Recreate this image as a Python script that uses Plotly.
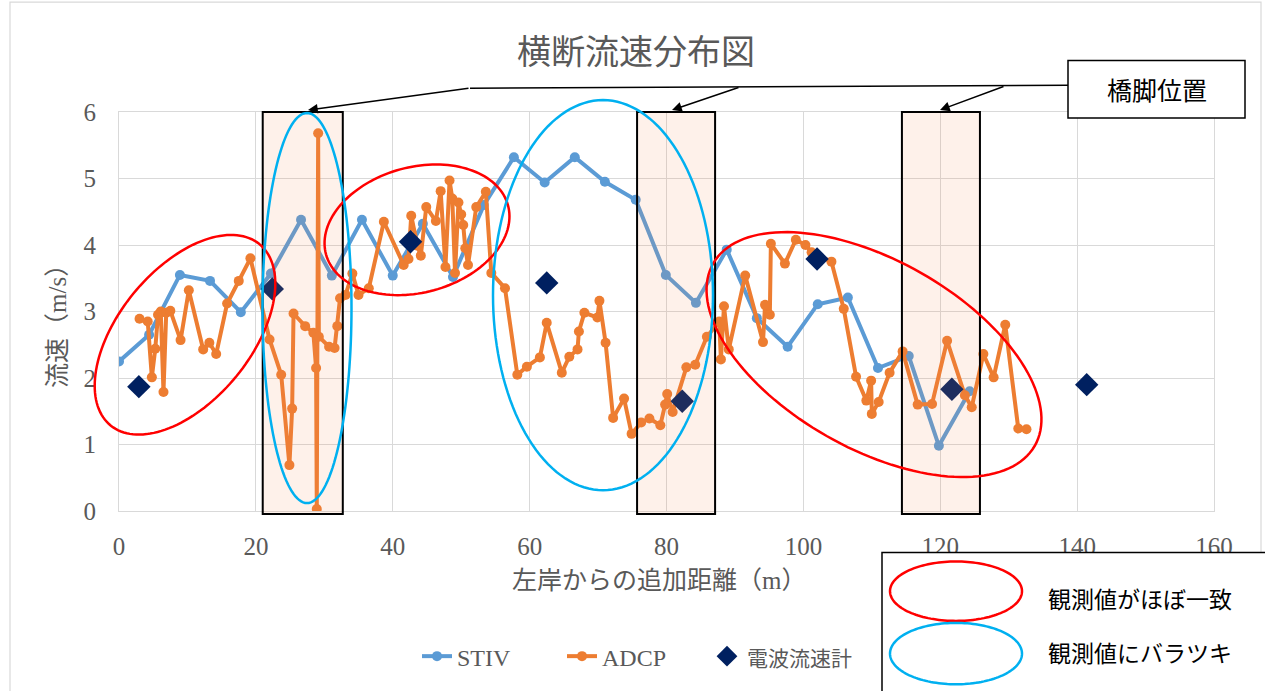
import math
import plotly.graph_objects as go

# ---- data -------------------------------------------------------------
stiv_x = [0, 4.4, 8.9, 13.3, 17.8, 22.2, 26.6, 31.1, 35.5, 40.0, 44.4, 48.8, 53.3,
          57.7, 62.2, 66.6, 71.0, 75.5, 79.9, 84.3, 88.8, 93.2, 97.7, 102.1, 106.5,
          110.9, 115.4, 119.8, 124.3]
stiv_v = [2.25, 2.65, 3.55, 3.46, 2.99, 3.57, 4.38, 3.54, 4.38, 3.54, 4.32, 3.52, 4.60,
          5.32, 4.94, 5.32, 4.95, 4.68, 3.55, 3.13, 3.93, 2.90, 2.47, 3.11, 3.21,
          2.15, 2.33, 0.98, 1.80]

adcp_x = [3.0, 4.2, 4.8, 5.3, 5.7, 6.1, 6.5, 6.9, 7.5, 9.0, 10.2, 12.3, 13.2, 14.2,
          15.8, 17.5, 19.2, 22.0, 23.7, 24.9, 25.3, 25.5, 27.2, 28.4, 28.8, 28.9,
          29.1, 29.2, 30.7, 31.5, 31.9, 32.3, 33.1, 34.1, 35.0, 36.5, 38.7, 41.6,
          42.3, 42.7, 43.6, 44.1, 44.9, 46.3, 47.0, 47.7, 48.3, 48.7, 49.1, 49.6,
          50.0, 50.3, 50.6, 51.0, 52.2, 53.6, 54.4, 56.4, 58.2, 59.6, 61.5, 62.5,
          64.7, 65.8, 67.0, 67.2, 68.0, 69.9, 70.2, 71.1, 72.2, 73.8, 74.9, 76.3,
          77.5, 79.1, 79.8, 80.1, 80.9, 82.9, 84.2, 85.9, 87.7, 87.95, 88.4, 89.1,
          91.5, 94.1, 94.4, 95.1, 95.25, 97.3, 98.9, 100.3, 101.2, 104.1, 105.9,
          107.7, 109.2, 109.9, 110.0, 111.0, 112.6, 114.5, 116.7, 118.8, 121.0,
          123.6, 124.6, 126.3, 127.8, 129.5, 131.4, 132.6]
adcp_v = [2.89, 2.85, 2.01, 2.44, 2.95, 3.00, 1.79, 2.98, 3.01, 2.57, 3.32, 2.43, 2.53, 2.36,
          3.12, 3.46, 3.80, 2.58, 2.05, 0.69, 1.54, 2.97, 2.78, 2.68, 2.15, 0.03,
          5.68, 2.62, 2.47, 2.45, 2.78, 3.20, 3.25, 3.57, 3.25, 3.35, 4.35, 3.70,
          3.79, 4.44, 3.99, 3.84, 4.57, 4.36, 4.81, 3.67, 4.97, 4.70, 3.58, 4.64,
          4.46, 4.30, 3.95, 3.70, 4.57, 4.80, 3.58, 3.35, 2.05, 2.17, 2.31, 2.83,
          2.08, 2.32, 2.43, 2.70, 2.98, 2.91, 3.16, 2.53, 1.40, 1.69, 1.16, 1.33,
          1.39, 1.29, 1.60, 1.76, 1.49, 2.16, 2.20, 2.62, 2.85, 2.28, 3.08, 2.43,
          3.54, 2.54, 3.10, 2.95, 4.02, 3.72, 4.08, 4.00, 3.89, 3.75, 3.04,
          2.02, 1.66, 1.96, 1.46, 1.64, 2.08, 2.40, 1.60, 1.61, 2.56,
          1.74, 1.56, 2.36, 2.01, 2.80, 1.24, 1.23]

radio_x = [2.9, 22.4, 42.6, 62.5, 82.3, 102.0, 121.7, 141.4]
radio_v = [1.87, 3.34, 4.05, 3.43, 1.65, 3.79, 1.83, 1.90]

# bridge pier spans along the cross section (m)
piers = [(21.0, 32.7), (75.7, 87.1), (114.4, 125.8)]

x_ticks = [0, 20, 40, 60, 80, 100, 120, 140, 160]
y_ticks = [0, 1, 2, 3, 4, 5, 6]

# ---- page geometry ----------------------------------------------------
W, H = 1265, 691
ML, MR, MT, MB = 119, 51, 112, 176
PW, PH = W - ML - MR, H - MT - MB
X_MAX, Y_MAX = 160, 6


def px(x):
    return (x - ML) / PW


def py(y):
    return (H - MB - y) / PH


def ellipse_path(cx, cy, a, b, deg, n=144):
    t0 = math.radians(deg)
    ux, uy = math.cos(t0), -math.sin(t0)
    vx, vy = math.sin(t0), math.cos(t0)
    pts = []
    for i in range(n):
        t = 2 * math.pi * i / n
        X = cx + a * math.cos(t) * ux + b * math.sin(t) * vx
        Y = cy + a * math.cos(t) * uy + b * math.sin(t) * vy
        pts.append(f"{px(X):.5f},{py(Y):.5f}")
    return "M" + " L".join(pts) + " Z"


GREY = "#595959"
SERIF = "Liberation Serif, Noto Sans CJK JP"
JP = "Noto Sans CJK JP"
RED = "#ff0000"
CYAN = "#00b0f0"

fig = go.Figure()
fig.add_trace(go.Scatter(
    x=stiv_x, y=stiv_v, name="STIV", mode="lines+markers",
    line=dict(color="#5b9bd5", width=4),
    marker=dict(color="#5b9bd5", size=10)))
fig.add_trace(go.Scatter(
    x=adcp_x, y=adcp_v, name="ADCP", mode="lines+markers",
    line=dict(color="#ed7d31", width=4),
    marker=dict(color="#ed7d31", size=10)))
fig.add_trace(go.Scatter(
    x=radio_x, y=radio_v,
    name="<span style='font-size:21px'>電波流速計</span>", mode="markers",
    marker=dict(color="#002060", size=18, symbol="diamond")))

shapes = []
# pier rectangles
for x0, x1 in piers:
    shapes.append(dict(type="rect", xref="paper", yref="paper",
                       x0=x0 / X_MAX, x1=x1 / X_MAX, y0=py(518), y1=1.0,
                       line=dict(color="black", width=2),
                       fillcolor="rgba(244,140,80,0.12)", layer="above"))

# highlight ellipses
shapes.append(dict(type="path", xref="paper", yref="paper",
                   path=ellipse_path(185, 337, 118, 66.3, 51.1),
                   line=dict(color=RED, width=2.5), layer="above"))
shapes.append(dict(type="path", xref="paper", yref="paper",
                   path=ellipse_path(417, 231, 94.3, 63.3, 15.4),
                   line=dict(color=RED, width=2.5), layer="above"))
shapes.append(dict(type="path", xref="paper", yref="paper",
                   path=ellipse_path(874, 357, 185.3, 94.9, -29.9),
                   line=dict(color=RED, width=2.5), layer="above"))
shapes.append(dict(type="path", xref="paper", yref="paper",
                   path=ellipse_path(307, 310, 44.5, 197, 0),
                   line=dict(color=CYAN, width=2.5), layer="above"))
shapes.append(dict(type="path", xref="paper", yref="paper",
                   path=ellipse_path(603, 297, 110, 197, 0),
                   line=dict(color=CYAN, width=2.5), layer="above"))

# callout leader line
shapes.append(dict(type="line", xref="paper", yref="paper",
                   x0=px(470), y0=py(88), x1=px(1068), y1=py(85),
                   line=dict(color="black", width=1.5), layer="above"))
# callout box
shapes.append(dict(type="rect", xref="paper", yref="paper",
                   x0=px(1068), x1=px(1245), y0=py(118), y1=py(60),
                   line=dict(color="black", width=1.5), fillcolor="white",
                   layer="above"))
# key box for the ellipses
shapes.append(dict(type="rect", xref="paper", yref="paper",
                   x0=px(882), x1=px(1275), y0=py(700), y1=py(557),
                   line=dict(color="black", width=1.5), fillcolor="white",
                   layer="above"))
shapes.append(dict(type="path", xref="paper", yref="paper",
                   path=ellipse_path(956, 596, 66, 30, 0),
                   line=dict(color=RED, width=2.5), layer="above"))
shapes.append(dict(type="path", xref="paper", yref="paper",
                   path=ellipse_path(956, 659, 66, 31, 0),
                   line=dict(color=CYAN, width=2.5), layer="above"))
# outer chart frame
shapes.append(dict(type="rect", xref="paper", yref="paper",
                   x0=px(10), x1=px(1261), y0=py(700), y1=py(1),
                   line=dict(color="#d9d9d9", width=1.2), layer="below"))

annotations = []
# arrows to the pier tops
for (hx, hy, tx, ty) in [(308, 110, 470, 88), (672, 110, 740, 87), (940, 110, 1005, 86)]:
    annotations.append(dict(xref="paper", yref="paper", x=px(hx), y=py(hy),
                            ax=tx - hx, ay=ty - hy, text="", showarrow=True,
                            arrowhead=2, arrowsize=1.3, arrowwidth=1.5,
                            arrowcolor="black", standoff=0))


def label(x, y, text, font, xanchor="center", angle=0):
    annotations.append(dict(xref="paper", yref="paper", x=px(x), y=py(y),
                            xanchor=xanchor, yanchor="middle", text=text,
                            textangle=angle, showarrow=False, font=font))


label(1157, 89, "橋脚位置", dict(family=JP, size=25, color="black"))
label(1046, 603, "観測値がほぼ一致", dict(family=JP, size=23, color="black"), "left")
label(1046, 657, "観測値にバラツキ", dict(family=JP, size=23, color="black"), "left")
# axis titles
label(659, 585, "左岸からの追加距離（m）", dict(family=SERIF, size=25, color=GREY))
label(58, 322, "流速（m/s）", dict(family=SERIF, size=25, color=GREY), angle=-90)

fig.update_layout(
    width=W, height=H,
    margin=dict(l=ML, r=MR, t=MT, b=MB, pad=0),
    paper_bgcolor="white", plot_bgcolor="white",
    title=dict(text="横断流速分布図", x=636 / W, xanchor="center",
               y=1 - 52 / H, yanchor="middle", xref="container", yref="container",
               font=dict(family=JP, size=34, color=GREY)),
    xaxis=dict(range=[0, X_MAX], tickvals=x_ticks, showgrid=True,
               gridcolor="#d9d9d9", gridwidth=1, zeroline=False,
               showline=True, linecolor="#d9d9d9", mirror=True,
               ticks="", ticklabelstandoff=13,
               tickfont=dict(family="Liberation Serif", size=25, color=GREY)),
    yaxis=dict(range=[0, Y_MAX], tickvals=y_ticks, showgrid=True,
               gridcolor="#d9d9d9", gridwidth=1, zeroline=False,
               showline=True, linecolor="#d9d9d9", mirror=True,
               ticks="", ticklabelstandoff=17,
               tickfont=dict(family="Liberation Serif", size=25, color=GREY)),
    legend=dict(orientation="h", x=px(417), xanchor="left", y=py(662),
                yanchor="middle", entrywidth=100, entrywidthmode="pixels",
                font=dict(family=SERIF, size=24, color=GREY),
                bgcolor="rgba(0,0,0,0)"),
    shapes=shapes,
    annotations=annotations,
)

fig.write_html("out.html")
